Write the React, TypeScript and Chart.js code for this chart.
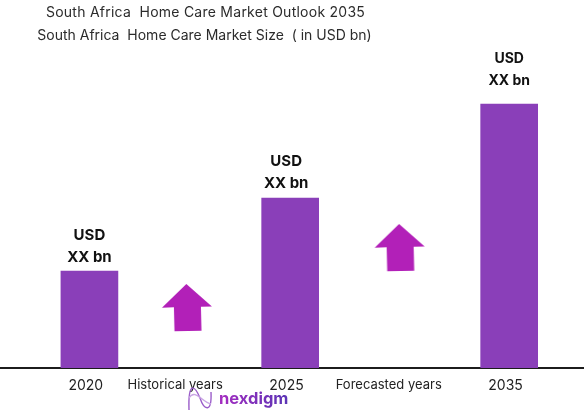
import React, { useEffect, useRef } from "react";
import Chart from "chart.js/auto";

const years = ["2020", "2025", "2035"];
const yearSlots = [0, 11, 23];
const barValues = [97, 170, 264];
const periods = ["Historical years", "Forecasted years"];
const periodSlots = [4.7, 16.4];
const arrowSlots = [5.34, 17];
const arrowValues = [60, 120];
const titleLines = [
  "South Africa  Home Care Market Outlook 2035",
  "South Africa  Home Care Market Size  ( in USD bn)",
];
const valueLabel = ["USD", "XX bn"];

const BAR_COLOR = "#8a3fb9";
const ARROW_COLOR = "#b220b8";
// the year labels sit a little left of their bars
const YEAR_LABEL_SHIFT = 0.2;

const makeArrow = () => {
  const c = document.createElement("canvas");
  c.width = 56;
  c.height = 52;
  const g = c.getContext("2d");
  if (g) {
    g.translate(28, 26);
    g.rotate(-0.025);
    g.fillStyle = ARROW_COLOR;
    g.beginPath();
    g.moveTo(0, -24);
    g.lineTo(25, -1);
    g.lineTo(14, -1);
    g.lineTo(14, 23);
    g.lineTo(-13, 23);
    g.lineTo(-13, -1);
    g.lineTo(-25, -1);
    g.closePath();
    g.fill();
  }
  return c;
};

const textPlugin = {
  id: "textPlugin",
  afterDatasetsDraw(chart: any) {
    const ctx = chart.ctx;
    ctx.save();
    ctx.textAlign = "center";
    ctx.textBaseline = "middle";

    // titles
    ctx.fillStyle = "#2b2b2b";
    ctx.font = "14px Inter";
    ctx.letterSpacing = "0.25px";
    ctx.fillText(titleLines[0], 205.5, 13);
    ctx.letterSpacing = "0px";
    ctx.fillText(titleLines[1], 204.5, 36);

    // labels above the bars are not quite centred or level in the original
    const lift = [0, 1, 9];
    const nudge = [0, -4, 0];
    ctx.fillStyle = "#111";
    chart.getDatasetMeta(0).data.forEach((bar: any, i: number) => {
      ctx.font = i === 2 ? "bold 14px Inter" : "bold 15px Inter";
      ctx.fillText(valueLabel[0], bar.x + nudge[i], bar.y - 36 - lift[i]);
      ctx.fillText(valueLabel[1], bar.x + nudge[i], bar.y - 14 - lift[i]);
    });

    // nexdigm logo
    ctx.font = "bold 16.5px Inter";
    ctx.textAlign = "left";
    const grad = ctx.createLinearGradient(220, 0, 288, 0);
    grad.addColorStop(0, "#a42cc0");
    grad.addColorStop(1, "#5b35b5");
    ctx.fillStyle = grad;
    ctx.fillText("nexdigm", 219, 399);
    ctx.strokeStyle = "#9a5cc9";
    ctx.lineWidth = 1.4;
    ctx.beginPath();
    ctx.moveTo(189, 410);
    ctx.bezierCurveTo(188, 380, 195, 386, 200, 398);
    ctx.bezierCurveTo(204, 410, 212, 414, 211, 392);
    ctx.stroke();
    ctx.strokeStyle = "#c9a6e4";
    ctx.beginPath();
    ctx.moveTo(189, 398);
    ctx.bezierCurveTo(195, 388, 202, 402, 211, 404);
    ctx.stroke();
    ctx.restore();
  },
};

const App: React.FC = () => {
  const chartRef = useRef<HTMLCanvasElement | null>(null);

  useEffect(() => {
    if (!chartRef.current) return;
    const arrow = makeArrow();
    const tickLabels = new Map<number, string>();
    yearSlots.forEach((s, i) => tickLabels.set(s - YEAR_LABEL_SHIFT, years[i]));
    periodSlots.forEach((s, i) => tickLabels.set(s, periods[i]));

    const chart = new Chart(chartRef.current, {
      type: "bar",
      data: {
        datasets: [
          {
            data: yearSlots.map((x, i) => ({ x, y: barValues[i] })),
            backgroundColor: BAR_COLOR,
            barThickness: 57,
          } as any,
          {
            type: "scatter",
            data: arrowSlots.map((x, i) => ({ x, y: arrowValues[i] })),
            pointStyle: arrow,
          } as any,
        ],
      },
      options: {
        animation: false,
        responsive: true,
        maintainAspectRatio: false,
        layout: { padding: 0, autoPadding: false },
        plugins: {
          legend: { display: false },
          title: { display: false },
          tooltip: { enabled: false },
        },
        scales: {
          x: {
            type: "linear",
            min: -4.9,
            max: 27.1,
            offset: false,
            grid: { display: false, drawTicks: false },
            border: { color: "#1c1c1c", width: 2 },
            afterFit: (scale: any) => {
              scale.height = 51;
              scale.paddingLeft = 0;
              scale.paddingRight = 0;
            },
            afterBuildTicks: (scale: any) => {
              scale.ticks = [...tickLabels.keys()]
                .sort((a, b) => a - b)
                .map((value) => ({ value }));
            },
            ticks: {
              autoSkip: false,
              maxRotation: 0,
              padding: 9,
              color: "#222",
              font: (c: any) =>
                periodSlots.includes(c.tick?.value)
                  ? { family: "Inter", size: 13 }
                  : { family: "Inter", size: 14 },
              callback: (v: any) => tickLabels.get(Number(v)) ?? "",
            },
          },
          y: { display: false, min: 0, max: 368 },
        },
      },
      plugins: [textPlugin],
    });

    return () => {
      chart.destroy();
    };
  }, []);

  return (
    <div style={{ position: "absolute", left: 0, top: 0, width: 584, height: 419, background: "#fff" }}>
      <canvas ref={chartRef} />
    </div>
  );
};

export default App;
